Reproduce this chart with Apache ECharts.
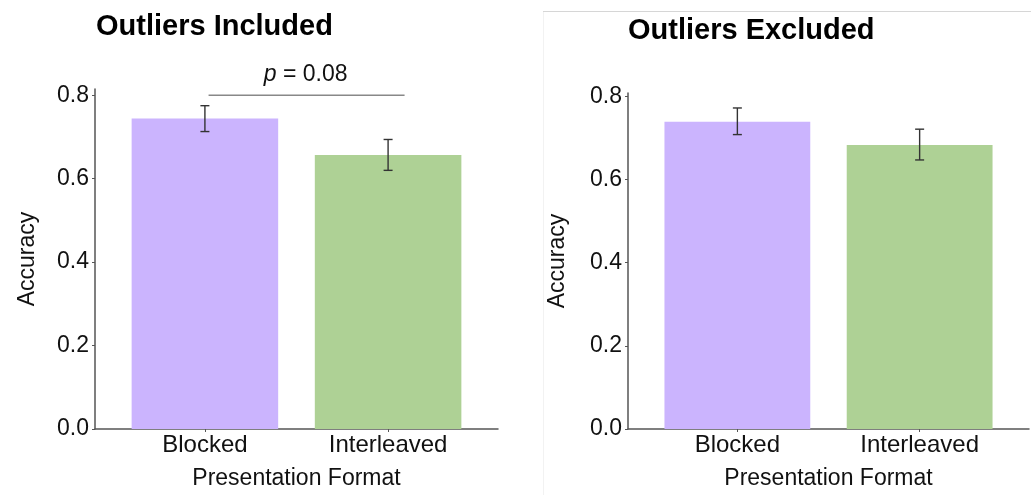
<!DOCTYPE html>
<html>
<head>
<meta charset="utf-8">
<script src="https://cdn.jsdelivr.net/npm/echarts@6/dist/echarts.min.js"></script>
<style>
html,body{margin:0;padding:0;background:#fff;}
#c{width:1031px;height:495px;}
</style>
</head>
<body>
<div id="c"></div>
<script>
// ---- data ----
const categories = ['Blocked', 'Interleaved'];
const includedMeans = [0.744, 0.657];
const includedLow = [0.713, 0.620];
const includedHigh = [0.775, 0.694];
const excludedMeans = [0.739, 0.683];
const excludedLow = [0.708, 0.647];
const excludedHigh = [0.772, 0.721];
const yTicks = [0, 0.2, 0.4, 0.6, 0.8];
const titles = ['Outliers Included', 'Outliers Excluded'];
const pLabel = '0.08';
const pBracketX = [0.02, 1.09];
const pBracketY = 0.8;
const pTextPos = [0.55, 0.849];

// ---- styles ----
const BAR_COLORS = ['#cbb4fe', '#aed195'];
const FONT = '"Liberation Sans", Arial, Helvetica, sans-serif';
const TXT = '#111';
const AXIS = '#555';

function barData(means, low, high) {
  return means.map((m, i) => [i, m, low[i], high[i]]);
}

function renderBar(params, api) {
  const x = api.value(0), v = api.value(1);
  const p1 = api.coord([x - 0.4, v]);
  const p2 = api.coord([x + 0.4, 0]);
  return {
    type: 'rect',
    shape: { x: p1[0], y: p1[1], width: p2[0] - p1[0], height: p2[1] - p1[1] },
    style: { fill: BAR_COLORS[params.dataIndex] }
  };
}

function renderErr(params, api) {
  const x = api.value(0);
  const lo = api.coord([x, api.value(2)]);
  const hi = api.coord([x, api.value(3)]);
  const hw = 4.5;
  const st = { stroke: '#333', lineWidth: 1.4 };
  return {
    type: 'group',
    children: [
      { type: 'line', shape: { x1: lo[0], y1: lo[1], x2: hi[0], y2: hi[1] }, style: st },
      { type: 'line', shape: { x1: lo[0] - hw, y1: lo[1], x2: lo[0] + hw, y2: lo[1] }, style: st },
      { type: 'line', shape: { x1: hi[0] - hw, y1: hi[1], x2: hi[0] + hw, y2: hi[1] }, style: st }
    ]
  };
}

function renderP(params, api) {
  const c = api.coord([api.value(0), api.value(1)]);
  return {
    type: 'text',
    x: c[0], y: c[1],
    style: {
      text: '{i|p} = ' + pLabel,
      align: 'center', verticalAlign: 'middle',
      font: '23px ' + FONT, fill: TXT,
      rich: { i: { fontStyle: 'italic', fontFamily: FONT, fontSize: 23, fill: TXT } }
    }
  };
}

function xAxis(gi) {
  return {
    type: 'value', gridIndex: gi, min: -0.6, max: 1.6,
    name: 'Presentation Format', nameLocation: 'middle', nameGap: 38,
    nameTextStyle: { fontFamily: FONT, fontSize: 23, color: TXT },
    axisLine: { show: true, onZero: false, lineStyle: { color: AXIS, width: 1.5 } },
    axisTick: { show: true, customValues: [0, 1], length: 3, lineStyle: { color: AXIS } },
    axisLabel: { customValues: [0, 1], formatter: v => categories[Math.round(v)] || '',
      fontFamily: FONT, fontSize: 24, color: TXT, margin: 4 },
    splitLine: { show: false }
  };
}
function yAxis(gi, max, gap) {
  return {
    type: 'value', gridIndex: gi, min: 0, max: max,
    name: 'Accuracy', nameLocation: 'middle', nameGap: gap,
    nameTextStyle: { fontFamily: FONT, fontSize: 23, color: TXT },
    axisLine: { show: true, onZero: false, lineStyle: { color: AXIS, width: 1.5 } },
    axisTick: { show: true, customValues: yTicks, length: 3, lineStyle: { color: AXIS } },
    axisLabel: { customValues: yTicks, formatter: v => v.toFixed(1),
      fontFamily: FONT, fontSize: 23, color: TXT, margin: 6 },
    splitLine: { show: false }
  };
}

const chart = echarts.init(document.getElementById('c'), null, { renderer: 'canvas' });
chart.setOption({
  animation: false,
  backgroundColor: '#fff',
  grid: [
    { left: 95, right: 533, top: 89, bottom: 65 },
    { left: 628, right: 2, top: 93, bottom: 64 }
  ],
  xAxis: [xAxis(0), xAxis(1)],
  yAxis: [yAxis(0, 0.815, 56), yAxis(1, 0.808, 59)],
  graphic: [
    { type: 'line', shape: { x1: 543, y1: 11.5, x2: 1031, y2: 11.5 }, style: { stroke: '#d6d6d6', lineWidth: 1 }, z: -1 },
    { type: 'line', shape: { x1: 543.5, y1: 12, x2: 543.5, y2: 495 }, style: { stroke: '#f2f2f2', lineWidth: 1 }, z: -1 },
    { type: 'text', left: 96, top: 12, style: { text: titles[0], font: 'bold 29px ' + FONT, fill: '#000' } },
    { type: 'text', left: 628, top: 16, style: { text: titles[1], font: 'bold 29px ' + FONT, fill: '#000' } }
  ],
  series: [
    { type: 'custom', xAxisIndex: 0, yAxisIndex: 0, renderItem: renderBar, data: barData(includedMeans, includedLow, includedHigh), encode: { x: 0, y: 1 } },
    { type: 'custom', xAxisIndex: 0, yAxisIndex: 0, renderItem: renderErr, data: barData(includedMeans, includedLow, includedHigh), encode: { x: 0, y: [2, 3] }, z: 3 },
    { type: 'custom', xAxisIndex: 1, yAxisIndex: 1, renderItem: renderBar, data: barData(excludedMeans, excludedLow, excludedHigh), encode: { x: 0, y: 1 } },
    { type: 'custom', xAxisIndex: 1, yAxisIndex: 1, renderItem: renderErr, data: barData(excludedMeans, excludedLow, excludedHigh), encode: { x: 0, y: [2, 3] }, z: 3 },
    { type: 'line', xAxisIndex: 0, yAxisIndex: 0, symbol: 'none', silent: true,
      lineStyle: { color: '#888', width: 1.5 },
      data: [[pBracketX[0], pBracketY], [pBracketX[1], pBracketY]] },
    { type: 'custom', xAxisIndex: 0, yAxisIndex: 0, clip: false, silent: true,
      renderItem: renderP, data: [pTextPos], encode: { x: 0, y: 1 } }
  ]
});
</script>
</body>
</html>
